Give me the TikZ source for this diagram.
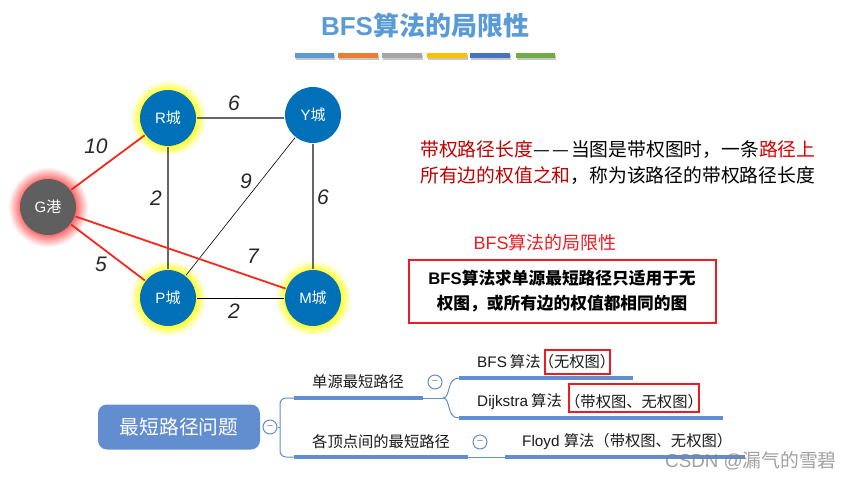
\documentclass[tikz,border=0pt]{standalone}
\usepackage{fontspec}
\setmainfont{Liberation Sans}
\newfontfamily\cjk{Noto Sans CJK SC}
\newcommand{\zh}[1]{{\cjk #1}}
\newcommand{\fs}[1]{\fontsize{#1}{#1}\selectfont}
\definecolor{cityblue}{HTML}{0071B9}
\definecolor{portgray}{HTML}{5F5F5F}
\definecolor{mapblue}{HTML}{628DCE}
\definecolor{boxred}{HTML}{ED1C24}
\definecolor{titleblue}{HTML}{5B9BD5}
\definecolor{edgered}{HTML}{F5281A}
\pgfdeclareradialshading{yellowglow}{\pgfpoint{0bp}{0bp}}{color(0bp)=(yellow!85); color(18bp)=(yellow!85); color(25bp)=(white); color(50bp)=(white)}
\pgfdeclareradialshading{redglow}{\pgfpoint{0bp}{0bp}}{color(0bp)=(red!60); color(17bp)=(red!60); color(25bp)=(white); color(50bp)=(white)}
\tikzset{
    city/.style={circle,fill=cityblue,text=white,minimum size=56pt,inner sep=0pt,outer sep=1pt,font=\fs{15}},
    port/.style={city,fill=portgray},
    weight/.style={font=\fs{21}\itshape,text=black!85},
    thinedge/.style={draw=black!60,line width=1.2pt},
    blackedge/.style={draw=black,line width=0.9pt},
    rededge/.style={draw=edgered,line width=1.8pt},
    bar/.style={draw=mapblue,line width=3.6pt},
    branch/.style={draw=mapblue,line width=1pt},
    fold/.style={circle,draw=mapblue,fill=white,line width=1pt,minimum size=14pt,inner sep=0pt,text=black!50,font=\fs{11}},
    redbox/.style={draw=boxred,line width=2pt,inner sep=0pt},
    maptext/.style={inner sep=0pt,text=black!90,font=\fs{15.3}}
}
\begin{document}
\begin{tikzpicture}[x=1pt,y=-1pt]
        \useasboundingbox (0,0) rectangle (852,480);
        % title
        \node (title) [text=titleblue,font=\fs{26}\bfseries] at (425,26) {BFS\zh{算法的局限性}};
        \foreach \xa/\xb/\barcol in {295/334/5B9BD5,338/378/ED7D31,382/422/A5A5A5,427/467/FFC000,470/510/4472C4,516/555/70AD47} {
            \definecolor{barcol}{HTML}{\barcol}
            \fill [black!22] (\xa+1,54.5) rectangle (\xb+1,60);
            \fill [barcol] (\xa,53) rectangle (\xb,58);
        }
        % glow
        \foreach \cx/\cy in {168/118,168/298,313/298} {
            \shade [shading=yellowglow] (\cx,\cy) circle (38);
        }
        \shade [shading=redglow] (48,207) circle (40);
        % graph
        \begin{scope}[every node/.style={city}]
            \node (R) at (168,118) {R\zh{城}};
            \node (Y) at (313,115) {Y\zh{城}};
            \node (P) at (168,298) {P\zh{城}};
            \node (M) at (313,298) {M\zh{城}};
            \node (G) [port] at (48,207) {G\zh{港}};
        \end{scope}
        \path (R) edge[thinedge] (Y.west |- R);
        \path (R) edge[thinedge] (P);
        \path (Y) edge[thinedge] (M);
        \path (P) edge[blackedge] (M);
        \path (P) edge[draw=black,line width=0.6pt] (Y);
        \path (G) edge[rededge] (R);
        \path (G) edge[rededge] (P);
        \path (G) edge[rededge] (M);
        \begin{scope}[every node/.style={weight}]
            \node (w0) at (96,146) {10};
            \node (w1) at (156,198) {2};
            \node (w2) at (101,264) {5};
            \node (w3) at (234,103) {6};
            \node (w4) at (246,181) {9};
            \node (w5) at (323,197) {6};
            \node (w6) at (253,256) {7};
            \node (w7) at (234,311) {2};
        \end{scope}
        % text on the right
        \node (def0) [anchor=west,inner sep=0pt,font=\fs{18.8}\cjk] at (420,150) {\textcolor{red!75!black}{带权路径长度}—\kern2.5pt—\kern2pt当图是带权图时，一条\textcolor{red!85!black}{路径上}};
        \node (def1) [anchor=west,inner sep=0pt,font=\fs{18.8}\cjk] at (420,176) {\textcolor{red!75!black}{所有边的权值之和}，称为该路径的带权路径长度};
        \node (limit) [text=boxred,inner sep=0pt,font=\fs{18}] at (545,243) {BFS\zh{算法的局限性}};
        \node (rule) [redbox,minimum width=307pt,minimum height=63pt,align=center,font=\fs{16.7}\bfseries] at (562,291) {BFS\zh{算法求单源最短路径只适用于无}\\[9pt]\zh{权图，或所有边的权值都相同的图}};
        % mind map
        \node (root) [fill=mapblue,rounded corners=9pt,minimum width=162pt,minimum height=45pt,text=white,font=\fs{19.7}\cjk] at (179,427) {最短路径问题};
        \node (f0) [fold] at (270,427) {−};
        \node (f1) [fold] at (435,382) {−};
        \node (f2) [fold] at (480,442) {−};
        \coordinate (trunk) at (280,427);
        \coordinate (a0) at (294,398);
        \coordinate (a1) at (423,398);
        \coordinate (fork) at (443,398);
        \coordinate (b0) at (294,457);
        \coordinate (b1) at (468,457);
        \coordinate (c0) at (459,378);
        \coordinate (c1) at (633,378);
        \coordinate (d0) at (459,418);
        \coordinate (d1) at (723,418);
        \coordinate (e0) at (505,457);
        \coordinate (e1) at (745,457);
        \draw [branch] (f0) -- (trunk);
        \draw [branch,rounded corners=6pt] (a0) -- (280,398) -- (280,457) -- (b0);
        \draw [branch] (a1) -- (fork);
        \draw [branch] (b1) -- (e0);
        \draw [branch] (fork) .. controls (451,398) and (446,378) .. (c0);
        \draw [branch] (fork) .. controls (451,398) and (446,418) .. (d0);
        \draw [bar] (a0) -- (a1);
        \draw [bar] (b0) -- (b1);
        \draw [bar] (c0) -- (c1);
        \draw [bar] (d0) -- (d1);
        \draw [bar] (e0) -- (e1);
        \begin{scope}[every node/.style={maptext}]
            \node (m0) [anchor=west] at (312,382) {\zh{单源最短路径}};
            \node (m1) [anchor=west] at (312,442) {\zh{各顶点间的最短路径}};
            \node (m2) [anchor=west] at (477,362) {BFS\kern3pt\zh{算法}};
            \node (m3) [anchor=west] at (477,402) {Dijkstra\kern3pt\zh{算法}};
            \node (m4) [anchor=west] at (522,442) {Floyd \zh{算法（带权图、无权图）}};
            \node (m5) at (577,362) {\zh{（无权图）}};
            \node (m6) at (634,402) {\zh{（带权图、无权图）}};
        \end{scope}
        \node (box0) [redbox,minimum width=65pt,minimum height=24pt] at (577.5,362) {};
        \node (box1) [redbox,minimum width=130pt,minimum height=28pt] at (634,398) {};
        % watermark
        \node (mark) [anchor=west,inner sep=0pt,text=black!50,opacity=0.75,font=\fs{18.8}] at (665,461) {CSDN @\zh{漏气的雪碧}};
    \end{tikzpicture}
\end{document}
